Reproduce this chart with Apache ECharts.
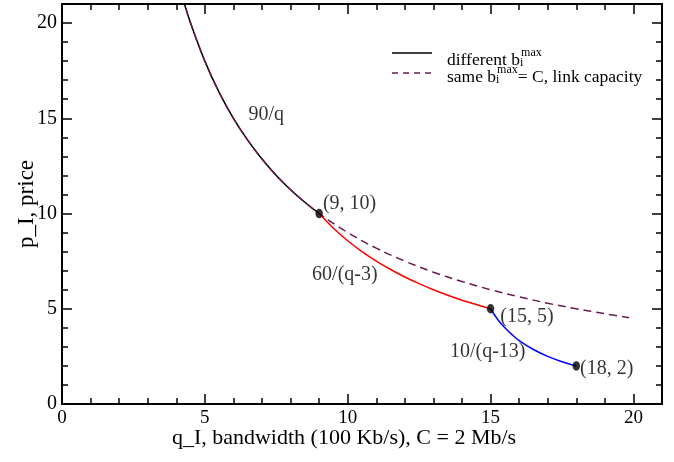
<!DOCTYPE html>
<html>
<head>
<meta charset="utf-8">
<script src="https://cdn.jsdelivr.net/npm/echarts@6/dist/echarts.min.js"></script>
<style>html,body{margin:0;padding:0;background:#fff;}#chart{width:674px;height:462px;}</style>
</head>
<body>
<div id="chart"></div>
<script>
// ---- data ----
const xTickLabels = [0, 5, 10, 15, 20];
const yTickLabels = [0, 5, 10, 15, 20];

// 90/q segment, q <= 9 (different b_i^max)
const blackQ = [4.2, 4.5, 5, 5.5, 6, 6.5, 7, 7.5, 8, 8.5, 9];
const blackP = [21.43, 20, 18, 16.36, 15, 13.85, 12.86, 12, 11.25, 10.59, 10];

// 60/(q-3) segment
const redQ = [9, 9.5, 10, 10.5, 11, 11.5, 12, 12.5, 13, 13.5, 14, 14.5, 15];
const redP = [10, 9.23, 8.57, 8, 7.5, 7.06, 6.67, 6.32, 6, 5.71, 5.45, 5.22, 5];

// 10/(q-13) segment
const blueQ = [15, 15.25, 15.5, 15.75, 16, 16.5, 17, 17.5, 18];
const blueP = [5, 4.44, 4, 3.64, 3.33, 2.86, 2.5, 2.22, 2];

// same b_i^max = C (90/q all the way)
const dashQ = [4.2, 4.5, 5, 5.5, 6, 6.5, 7, 7.5, 8, 8.5, 9, 10, 11, 12, 13, 14, 15, 16, 17, 18, 19, 19.85];
const dashP = [21.43, 20, 18, 16.36, 15, 13.85, 12.86, 12, 11.25, 10.59, 10, 9, 8.18, 7.5, 6.92, 6.43, 6, 5.63, 5.29, 5, 4.74, 4.53];

// break points
const dotQ = [9, 15, 18];
const dotP = [10, 5, 2];
const dotLabels = ['(9, 10)', '(15, 5)', '(18, 2)'];

// curve annotations
const noteText = ['90/q', '60/(q-3)', '10/(q-13)'];
const noteQ = [7.15, 9.9, 14.9];
const noteP = [15.2, 6.8, 2.72];

// legend texts
const legendMain = ['different b', 'same b'];
const legendTail = ['', '= C, link capacity'];

// ---- chart ----
const FONT = 'Liberation Serif';
const zip = (a, b) => a.map((v, i) => [v, b[i]]);

function majorAxis(pos, labels, fs) {
  return {
    type: 'value', min: 0, max: 21, interval: 5, position: pos,
    axisLine: { show: true, onZero: false, lineStyle: { color: '#000', width: 2 } },
    axisTick: { show: true, inside: true, length: 10, lineStyle: { color: '#000', width: 1.5 } },
    splitLine: { show: false },
    axisLabel: labels ? {
      show: true, color: '#000', fontFamily: FONT, fontSize: fs, margin: 5,
      formatter: v => (labels.indexOf(v) >= 0 ? String(v) : '')
    } : { show: false }
  };
}
function minorAxis(pos) {
  return {
    type: 'value', min: 0, max: 21, interval: 1, position: pos,
    axisLine: { show: false, onZero: false },
    axisTick: { show: true, inside: true, length: 6, lineStyle: { color: '#000', width: 1.5 } },
    splitLine: { show: false },
    axisLabel: { show: false }
  };
}

const xMain = majorAxis('bottom', xTickLabels, 19);
xMain.name = 'q_I, bandwidth (100 Kb/s), C = 2 Mb/s';
xMain.nameLocation = 'middle';
xMain.nameGap = 23;
xMain.nameMoveOverlap = false;
xMain.nameTextStyle = { color: '#000', fontFamily: FONT, fontSize: 22, padding: [0, 36, 0, 0] };

const yMain = majorAxis('left', yTickLabels, 20);
yMain.name = 'p_I, price';
yMain.nameLocation = 'middle';
yMain.nameGap = 24;
yMain.nameMoveOverlap = false;
yMain.nameTextStyle = { color: '#000', fontFamily: FONT, fontSize: 23 };

// legend layout from measured text widths
const ctx = document.createElement('canvas').getContext('2d');
const bigFont = '17.5px "Liberation Serif"';
const smallFont = '12px "Liberation Serif"';
function measure(t, f) { ctx.font = f; return ctx.measureText(t).width; }
const legendGraphics = [
  { type: 'line', shape: { x1: 392, y1: 53, x2: 432, y2: 53 }, style: { stroke: '#000', lineWidth: 1.5 } },
  { type: 'line', shape: { x1: 392, y1: 73, x2: 432, y2: 73 }, style: { stroke: '#6a1a50', lineWidth: 1.5, lineDash: [6, 5] } }
];
[60, 77].forEach((cy, r) => {
  const x0 = 447;
  const wMain = measure(legendMain[r], bigFont);
  const wMax = measure('max', smallFont);
  const txt = (x, y, t, f) => ({ type: 'text', x: x, y: y,
    style: { text: t, font: f, fill: '#000', verticalAlign: 'middle', textVerticalAlign: 'middle', align: 'left' } });
  legendGraphics.push(txt(x0, cy, legendMain[r], bigFont));
  legendGraphics.push(txt(x0 + wMain, cy + 2.5, 'i', smallFont));
  legendGraphics.push(txt(x0 + wMain + 1, cy - 7.5, 'max', smallFont));
  if (legendTail[r]) legendGraphics.push(txt(x0 + wMain + wMax + 1, cy, legendTail[r], bigFont));
});

const chart = echarts.init(document.getElementById('chart'), null, { renderer: 'canvas' });
chart.setOption({
  animation: false,
  backgroundColor: '#fff',
  grid: { left: 62, right: 12, top: 4, bottom: 58, containLabel: false },
  xAxis: [xMain, minorAxis('bottom'), majorAxis('top', null), minorAxis('top')],
  yAxis: [yMain, minorAxis('left'), majorAxis('right', null), minorAxis('right')],
  series: [
    { type: 'line', data: zip(blackQ, blackP), smooth: 0.4, showSymbol: false, clip: true,
      lineStyle: { color: '#000', width: 1.5 }, z: 2 },
    { type: 'line', data: zip(dashQ, dashP), smooth: 0.4, showSymbol: false, clip: true,
      lineStyle: { color: '#6a1a50', width: 1.5, type: [8, 5] }, z: 3 },
    { type: 'line', data: zip(redQ, redP), smooth: 0.4, showSymbol: false, clip: true,
      lineStyle: { color: '#ff0000', width: 1.5 }, z: 4 },
    { type: 'line', data: zip(blueQ, blueP), smooth: 0.4, showSymbol: false, clip: true,
      lineStyle: { color: '#0000ff', width: 1.5 }, z: 4 },
    { type: 'scatter', symbol: 'circle', symbolSize: [7.5, 9.5], z: 6,
      itemStyle: { color: '#000' },
      data: dotQ.map((q, i) => ({
        value: [q, dotP[i]],
        label: {
          show: true, position: 'right', color: '#000', fontFamily: FONT, fontSize: 20,
          distance: [0, 6, 0][i], offset: [[0, -10], [0, 8], [0, 3]][i],
          formatter: dotLabels[i]
        }
      }))
    },
    { type: 'scatter', symbolSize: 0, z: 6, silent: true,
      data: noteQ.map((q, i) => ({ value: [q, noteP[i]], name: noteText[i] })),
      label: { show: true, position: 'inside', color: '#000', fontFamily: FONT, fontSize: 20,
        formatter: p => p.name }
    }
  ],
  graphic: legendGraphics
});
</script>
</body>
</html>
